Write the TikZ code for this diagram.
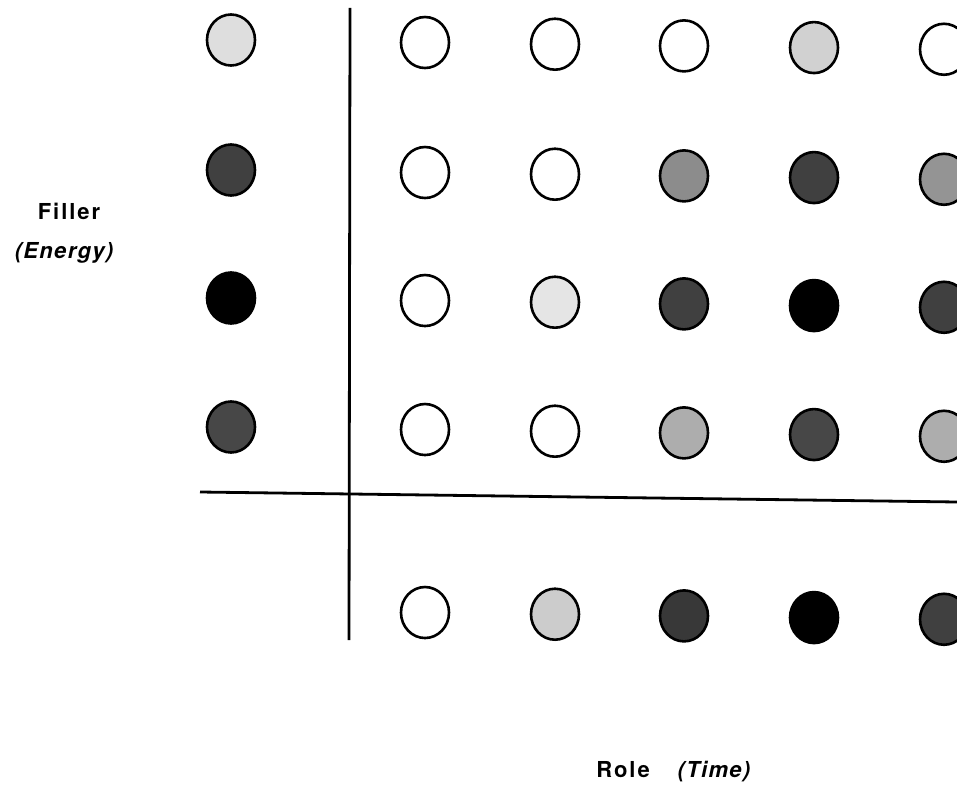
\documentclass[tikz,border=0pt]{standalone}
\usepackage{fontspec}
\setmainfont{TeX Gyre Heros}
\usetikzlibrary{shapes.geometric}
\tikzset{
  dot/.style={ellipse, draw=black, line width=2.6pt, minimum width=48pt, minimum height=51pt, inner sep=0pt},
  axis/.style={line width=2.8pt, black},
  lbl/.style={font=\fontsize{22}{26}\selectfont\bfseries\addfontfeature{LetterSpace=9}, anchor=base, inner sep=0pt},
  ilbl/.style={font=\fontsize{22}{26}\selectfont\bfseries\itshape\addfontfeature{LetterSpace=6}, anchor=base, inner sep=0pt}
}
\begin{document}
\begin{tikzpicture}[x=1pt,y=-1pt]
\useasboundingbox (0,0) rectangle (957,786);
\def\tilt{0.013}
\foreach \r/\base/\shades in {1/40/{13,0,0,0,18,0}, 2/170/{75,0,0,45,75,42}, 3/298/{100,0,10,75,100,75}, 4/427/{72,0,0,32,72,32}}{
  \foreach \x [count=\c] in {231,425,555,684,814,944}{
    \pgfmathsetmacro{\yy}{\base+\tilt*(\x-231)}
    \pgfmathsetmacro{\sh}{{\shades}[\c-1]}
    \node[dot, fill=black!\sh] (c-\r-\c) at (\x,\yy) {};
  }
}
\foreach \x/\sh [count=\c from 2] in {425/0,555/20,684/78,814/100,944/75}{
  \pgfmathsetmacro{\yy}{610+\tilt*(\x-231)}
  \node[dot, fill=black!\sh] (c-5-\c) at (\x,\yy) {};
}
\coordinate (hl) at (200,492);
\coordinate (hr) at (957,502);
\coordinate (vt) at (350,8);
\coordinate (vb) at (349,640);
\draw[axis] (hl) -- (hr);
\draw[axis] (vt) -- (vb);
\node[lbl] (filler) at (69,219) {Filler};
\node[ilbl] (energy) at (64,258) {(Energy)};
\node[lbl] (role) at (623,777) {Role};
\node[ilbl] (time) at (714,777) {(Time)};
\end{tikzpicture}
\end{document}
